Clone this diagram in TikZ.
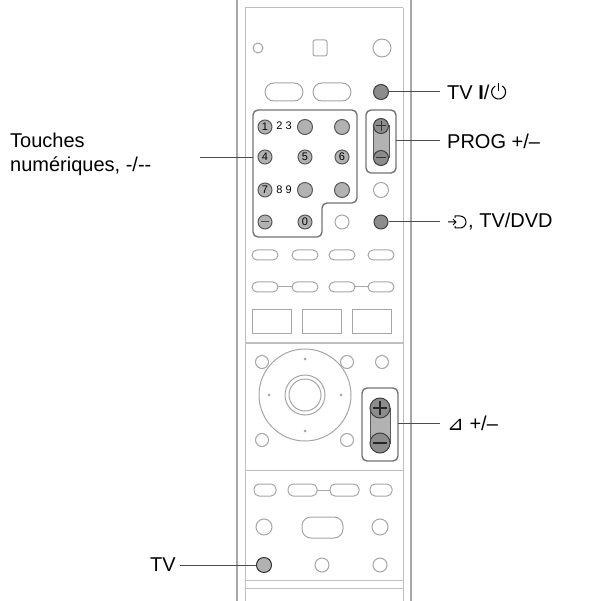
\documentclass[tikz,border=0pt]{standalone}
\usepackage{fontspec}
\usetikzlibrary{calc}
\setmainfont{Liberation Sans}
\newfontfamily\djfont{DejaVu Sans}
\begin{document}
\begin{tikzpicture}[x=1pt,y=-1pt,
  lbl/.style={font=\fontsize{20}{24}\selectfont,anchor=west,inner sep=0},
  body/.style={draw=black!35,line width=1.6pt},
  lt/.style={draw=black!35,line width=1pt,fill=white},
  dk/.style={draw=black!75,line width=1pt,fill=black!45},
  gy/.style={draw=black!65,line width=1pt,fill=black!30},
  grp/.style={draw=black!55,line width=1.4pt,rounded corners=5pt},
  lead/.style={draw=black!70,line width=1pt}]
\useasboundingbox (0,0) rectangle (610,601);
% body
\draw[body] (237,0) -- (237,601);
\draw[body] (411,0) -- (411,601);
\draw[black!25,line width=1pt] (245,8) -- (245,601) (403,8) -- (403,601) (245,8) -- (403,8);
\draw[black!25,line width=1pt] (245,580) -- (403,580) (245,588)--(403,588);
% top row
\draw[lt] (258,48) circle (5);
\draw[lt,rounded corners=2pt] (313,40) rectangle (327,56);
\draw[lt] (382,48) circle (9);
% row 2
\draw[lt,rounded corners=9pt] (265,83) rectangle (303,101);
\draw[lt,rounded corners=9pt] (313,83) rectangle (351,101);
\node[dk,circle,minimum size=15pt,inner sep=0] (pwr) at (381,92) {};
% number pad
\draw[grp] (253,110) -- (357,110) -- (357,203) -- (322,203) -- (322,237) -- (253,237) -- cycle;
\coordinate (padL) at (253,158);
\foreach \x/\y/\t in {265/127/1,265/157/4,305/157/5,342/157/6,265/190/7,305/222/0}
  \node[gy,circle,minimum size=14pt,inner sep=0,font=\fontsize{11}{11}\selectfont] at (\x,\y) {\t};
\foreach \x/\y in {305/127,342/127,305/190,342/190}
  \node[gy,circle,minimum size=15pt,inner sep=0] at (\x,\y) {};
\node[gy,circle,minimum size=14pt,inner sep=0] at (265,222) {};
\draw[black!70,line width=1pt] (261,222)--(269,222);
\node[font=\fontsize{11}{11}\selectfont] at (284,126) {2 3};
\node[font=\fontsize{11}{11}\selectfont] at (284,190) {8 9};
\draw[lt] (342,222) circle (7);
\node[dk,circle,minimum size=14pt,inner sep=0] (inp) at (381,222) {};
% PROG
\draw[grp] (366,110) rectangle (396,173);
\draw[gy] (373,126) rectangle (389,158);
\draw[dk] (381,126) circle (7.5); \draw[dk] (381,158) circle (7.5);
\draw[black!80,line width=1pt] (381,121)--(381,131) (376,126)--(386,126) (376,158)--(386,158);
\coordinate (progR) at (396,141);
\draw[lt] (381,190) circle (7.5);
% small pills
\foreach \x in {265,305,342,381} \draw[lt,rounded corners=5pt] (\x-13,250) rectangle (\x+13,260);
\foreach \x in {265,305,342,381} \draw[lt,rounded corners=5pt] (\x-13,282) rectangle (\x+13,292);
\draw[black!35,line width=1pt] (278,287)--(292,287) (355,287)--(368,287);
% rectangles
\foreach \x in {252,302,352} \draw[lt] (\x,310) rectangle (\x+39,334);
% dpad area
\draw[black!25,line width=1pt] (245,343)--(403,343);
\foreach \x in {262,347,382} \draw[lt] (\x,362) circle (6.5);
\draw[lt] (305,395) circle (46);
\draw[lt] (305,395) circle (20);
\draw[lt] (305,395) circle (16);
\foreach \a in {0,90,180,270} \fill[black!35] ($(305,395)+(\a:36)$) circle (1.5);
\draw[lt] (262,440) circle (6.5); \draw[lt] (347,440) circle (6.5);
% volume
\draw[grp] (362,388) rectangle (398,461);
\draw[gy] (370,408) rectangle (390,443);
\draw[dk] (380,408) circle (10); \draw[dk] (380,443) circle (10);
\draw[black!85,line width=1.2pt] (380,401)--(380,415) (373,408)--(387,408) (373,443)--(387,443);
\coordinate (volR) at (398,423);
\draw[black!25,line width=1pt] (245,470)--(403,470);
% transport
\draw[lt,rounded corners=5pt] (254,484) rectangle (276,496);
\draw[lt,rounded corners=5pt] (288,484) rectangle (317,496);
\draw[lt,rounded corners=5pt] (330,484) rectangle (359,496);
\draw[black!35,line width=1pt] (317,490)--(330,490);
\draw[lt,rounded corners=5pt] (370,484) rectangle (392,496);
\draw[lt] (264,527) circle (8); \draw[lt] (380,527) circle (8);
\draw[lt,rounded corners=9pt] (302,517) rectangle (343,538);
\node[gy,draw=black!80,circle,minimum size=15pt,inner sep=0] (tvb) at (264,565) {};
\draw[lt] (322,565) circle (7); \draw[lt] (380,565) circle (7);
% labels
\node[lbl] (l1) at (447,92) {TV \textbf{I}/};
\begin{scope}[shift={(l1.east)},xshift=9pt,yscale=-1,line width=1.1pt]
  \draw (60:7) arc (60:-240:7);
  \draw (0,1) -- (0,9);
\end{scope}
\draw[lead] (pwr.east) -- (440,92);
\node[lbl] (l2) at (447,141) {PROG +/–};
\draw[lead] (progR) -- (440,141);
\node[lbl] (l3) at (447,222) {\hspace{21pt}, TV/DVD};
\begin{scope}[shift={(456,222)},yscale=-1,line width=1pt]
  \draw (-8,0) -- (0,0) (-3,3) -- (0,0) -- (-3,-3);
  \draw (-1,4) -- (-1,6) -- (4,6) arc (90:-90:6) -- (-1,-6) -- (-1,-4);
\end{scope}
\draw[lead] (inp.east) -- (440,222);
\node[lbl] (l4) at (447,423) {{\djfont ⊿} +/–};
\draw[lead] (volR) -- (440,423);
\node[lbl] (l5) at (150,565) {TV};
\draw[lead] (180,565) -- (tvb.west);
\node[lbl,align=left,anchor=north west] (l6) at (10,133) {Touches\\numériques, -/-{}-};
\draw[lead] (200,158) -- (padL);
\end{tikzpicture}
\end{document}
